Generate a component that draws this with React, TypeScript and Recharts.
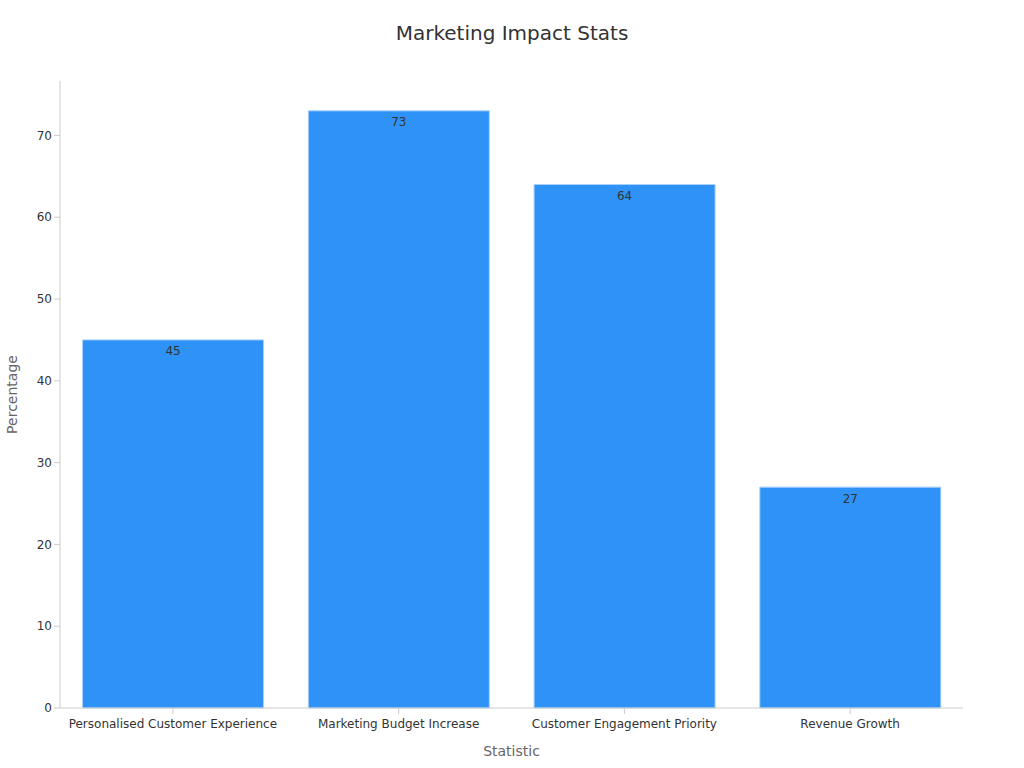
import { BarChart, Bar, XAxis, YAxis, LabelList } from "recharts";

const categories = [
  "Personalised Customer Experience",
  "Marketing Budget Increase",
  "Customer Engagement Priority",
  "Revenue Growth",
];
const percentages = [45, 73, 64, 27];
const yTicks = [0, 10, 20, 30, 40, 50, 60, 70];

const data = categories.map((name, i) => ({ name, value: percentages[i] }));

const font = "DejaVu Sans, sans-serif";

export default function App() {
  return (
    <div style={{ position: "absolute", left: 0, top: 0, width: 1024, height: 768, background: "#fff", fontFamily: font }}>
      <div
        style={{
          position: "absolute",
          top: 21,
          width: 1024,
          textAlign: "center",
          fontSize: 20,
          color: "#333",
        }}
      >
        Marketing Impact Stats
      </div>
      <BarChart
        width={1024}
        height={768}
        data={data}
        margin={{ top: 81, right: 61, bottom: 0, left: 0 }}
        barCategoryGap="10%"
      >
        <XAxis
          dataKey="name"
          height={60}
          interval={0}
          stroke="#ccc"
          tickSize={6}
          tickMargin={5}
          tick={{ fill: "#333", fontSize: 12, fontFamily: font }}
          label={{ value: "Statistic", position: "insideBottom", offset: 12, fill: "#666", fontSize: 14, fontFamily: font }}
        />
        <YAxis
          width={60}
          domain={[0, 76.65]}
          ticks={yTicks}
          stroke="#ccc"
          tickSize={6}
          tick={{ fill: "#333", fontSize: 12, fontFamily: font }}
          label={{ value: "Percentage", angle: -90, position: "insideLeft", offset: 12, fill: "#666", fontSize: 14, fontFamily: font, style: { textAnchor: "middle" } }}
        />
        <Bar dataKey="value" fill="#2e92f7" stroke="#a8d1fb" strokeWidth={1} isAnimationActive={false}>
          <LabelList dataKey="value" position="insideTop" offset={7} fill="#333" fontSize={12} fontFamily={font} />
        </Bar>
      </BarChart>
    </div>
  );
}
